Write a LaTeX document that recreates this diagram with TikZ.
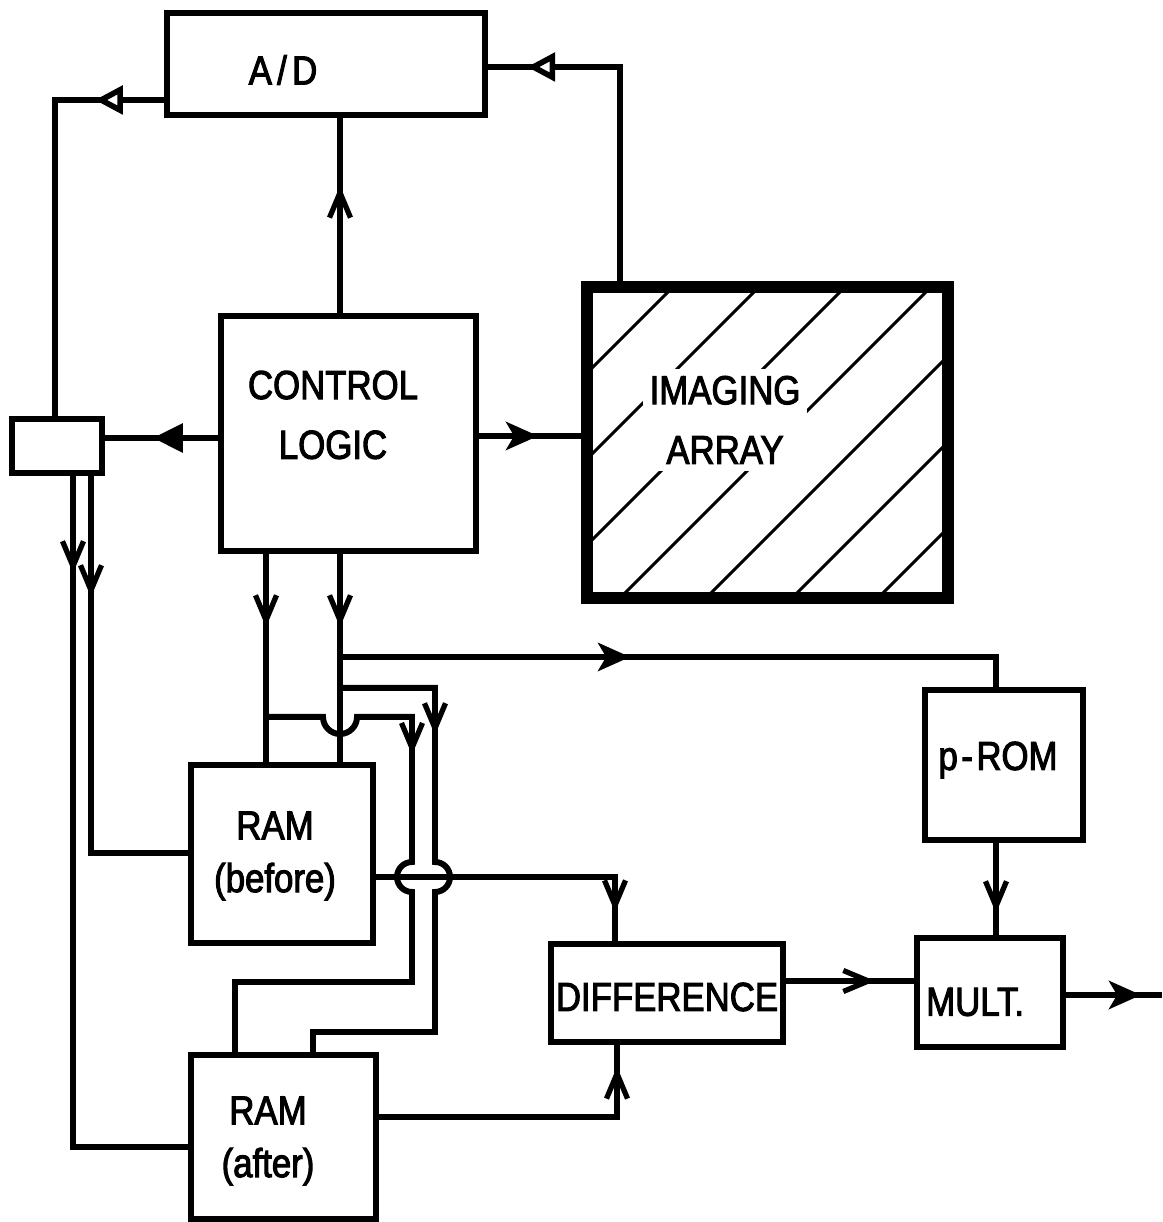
\documentclass[tikz,border=0pt]{standalone}
\usepackage{fontspec}
\setmainfont{Liberation Sans}[FakeStretch=0.86,FakeBold=2.5]
\usetikzlibrary{arrows.meta,decorations.markings}
\begin{document}
\begin{tikzpicture}[x=0.01cm,y=0.01cm,
  box/.style={draw,line width=1.9pt,inner sep=0pt,outer sep=0pt},
  lbl/.style={font=\fontsize{11.5}{17}\selectfont,align=center,inner sep=1pt},
  ramlbl/.style={font=\fontsize{11.5}{15}\selectfont,align=center,inner sep=1pt},
  conn/.style={line width=1.7pt},
  hatchline/.style={line width=0.9pt},
  barbat/.style={postaction={decorate,decoration={markings,mark=at position #1 with {\arrow[line width=1.5pt]{Straight Barb[length=2.5mm,width=2.1mm]}}}}},
  fillat/.style={postaction={decorate,decoration={markings,mark=at position #1 with {\arrow{Triangle[length=3mm,width=2.8mm]}}}}},
  stealthat/.style={postaction={decorate,decoration={markings,mark=at position #1 with {\arrow{Stealth[length=3.2mm,width=2.8mm,inset=0.8mm]}}}}},
  openat/.style={postaction={decorate,decoration={markings,mark=at position #1 with {\arrow[line width=1.6pt]{Triangle[length=2.8mm,width=2.8mm,fill=white]}}}}}
]
\useasboundingbox (0,0) rectangle (1162,1222);

% boxes
\node[box,minimum width=3.18cm,minimum height=1.02cm] (ad) at (326,1158) {};
\node[lbl] (adt) at (283,1152) {A\kern1.5pt/\kern1.5pt D};
\node[box,minimum width=2.55cm,minimum height=2.35cm] (cl) at (348.5,788.5) {};
\node[lbl] (clt) at (333,807) {CONTROL\\LOGIC};
\node[box,minimum width=0.9cm,minimum height=0.54cm] (sb) at (57,776) {};
\node[box,line width=3.6pt,minimum width=3.61cm,minimum height=3.11cm] (ia) at (767.5,779.5) {};
\begin{scope}
  \clip (ia.south west) rectangle (ia.north east);
  \foreach \d in {-262,-176,-90,-4,82,168,254}
    \draw[hatchline] (560,{560-(\d)}) -- (980,{980-(\d)});
\end{scope}
\node[box,line width=3.6pt,minimum width=3.61cm,minimum height=3.11cm] (iab) at (767.5,779.5) {};
\node[lbl,fill=white,inner sep=2pt] (iat) at (725,802) {IMAGING\\ARRAY};
\node[box,minimum width=1.82cm,minimum height=1.78cm] (rb) at (282,368) {};
\node[ramlbl] (rbt) at (275,366) {RAM\\(before)};
\node[box,minimum width=1.85cm,minimum height=1.64cm] (ra) at (283.5,85) {};
\node[ramlbl] (rat) at (268,81) {RAM\\(after)};
\node[box,minimum width=2.32cm,minimum height=0.98cm] (df) at (667,229) {};
\node[lbl] (dft) at (667,225) {DIFFERENCE};
\node[box,minimum width=1.58cm,minimum height=1.5cm] (pr) at (1004,457) {};
\node[lbl] (prt) at (998,462) {p\kern1pt-\kern1pt ROM};
\node[box,minimum width=1.46cm,minimum height=1.09cm] (mu) at (990,229.5) {};
\node[lbl,anchor=west] (mut) at (922,220) {MULT.};

\coordinate (j1) at (340,565);
\coordinate (j2) at (340,534);
\coordinate (j3) at (266,505);
\coordinate (out) at (1162,227);

% connectors
\draw[conn,barbat=1.3cm] (cl.north -| 340,0) -- (ad.south -| 340,0);
\draw[conn,openat=0.72cm] (ad.west |- 0,1122) -- (55,1122) -- (sb.north -| 55,0);
\draw[conn,openat=-0.42cm] (ia.north -| 620,0) -- (620,1155) -- (ad.east |- 0,1155);
\draw[conn,fillat=0.68cm] (cl.west |- 0,784) -- (sb.east |- 0,784);
\draw[conn,stealthat=0.62cm] (cl.east |- 0,786) -- (ia.west |- 0,786);
\draw[conn,barbat=1.0cm] (sb.south -| 73,0) -- (73,75) -- (ra.west |- 0,75);
\draw[conn,barbat=1.24cm] (sb.south -| 91,0) -- (91,369) -- (rb.west |- 0,369);
\draw[conn,barbat=0.76cm] (cl.south -| 266,0) -- (rb.north -| 266,0);
\draw[conn,barbat=0.76cm] (cl.south -| 340,0) -- (rb.north -| 340,0);
\draw[conn,stealthat=2.9cm] (j1) -- (996,565) -- (pr.north -| 996,0);
\draw[conn,barbat=2.03cm] (j3) -- (323,505) arc[start angle=180,end angle=360,radius=17]
  -- (412,505) -- (412,360) arc[start angle=90,end angle=270,radius=15]
  -- (412,240) -- (235,240) -- (ra.north -| 235,0);
\draw[conn,barbat=1.42cm] (j2) -- (435,534) -- (435,360) arc[start angle=90,end angle=-90,radius=15]
  -- (435,190) -- (313,190) -- (ra.north -| 313,0);
\draw[conn,barbat=2.77cm] (rb.east |- 0,345) -- (615,345) -- (df.north -| 615,0);
\draw[conn,barbat=2.91cm] (ra.east |- 0,105) -- (617,105) -- (df.south -| 617,0);
\draw[conn,barbat=0.92cm] (df.east |- 0,241) -- (mu.west |- 0,241);
\draw[conn,barbat=0.73cm] (pr.south -| 996,0) -- (mu.north -| 996,0);
\draw[conn,stealthat=0.78cm] (mu.east |- 0,227) -- (out);
\end{tikzpicture}
\end{document}
